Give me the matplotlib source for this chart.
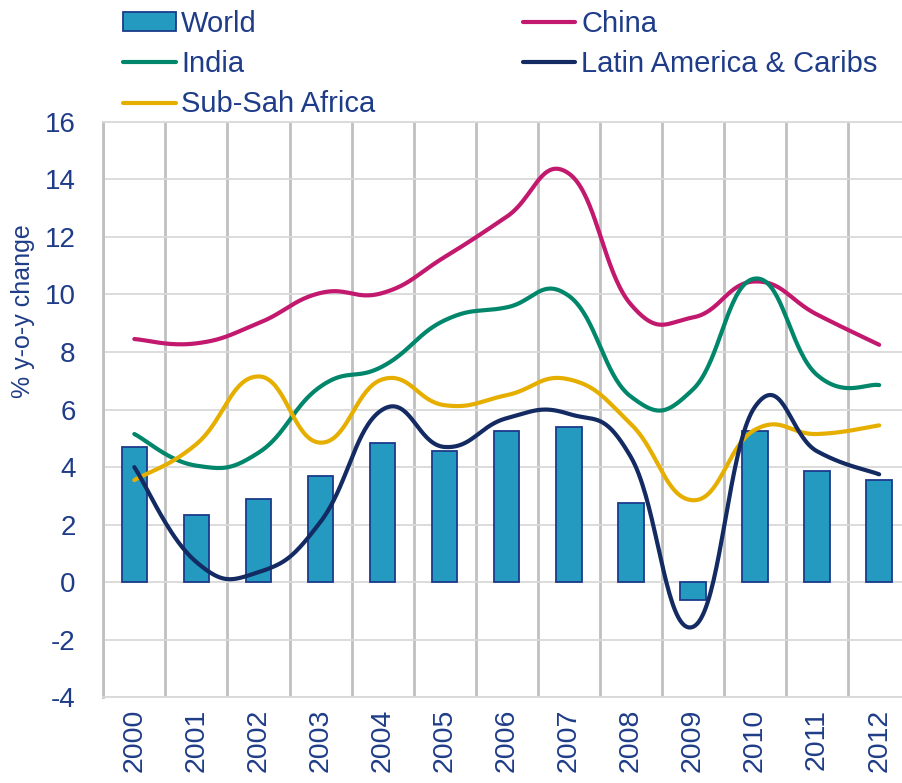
import numpy as np
import matplotlib
matplotlib.use("Agg")
import matplotlib.pyplot as plt
from matplotlib.patches import Patch
from matplotlib.lines import Line2D

years = ["2000", "2001", "2002", "2003", "2004", "2005", "2006",
         "2007", "2008", "2009", "2010", "2011", "2012"]
world = [4.7, 2.35, 2.9, 3.7, 4.85, 4.55, 5.25, 5.4, 2.75, -0.6, 5.25, 3.85, 3.55]
china = [8.45, 8.3, 9.0, 10.05, 10.05, 11.3, 12.7, 14.2, 9.65, 9.2, 10.45, 9.3, 8.25]
india = [5.15, 4.05, 4.5, 6.8, 7.5, 9.1, 9.55, 9.95, 6.45, 6.7, 10.55, 7.2, 6.85]
latin = [4.0, 0.7, 0.35, 2.1, 6.0, 4.7, 5.7, 5.85, 4.35, -1.55, 6.1, 4.55, 3.75]
ssa = [3.55, 4.8, 7.15, 4.85, 7.05, 6.15, 6.5, 7.05, 5.5, 2.85, 5.3, 5.15, 5.45]

TEXT = "#1F3C88"
C_BAR = "#249AC0"
C_BAR_EDGE = "#1B3A8A"
C_CHINA = "#C2186E"
C_INDIA = "#00866A"
C_LATIN = "#132A62"
C_SSA = "#E6AF00"

plt.rcParams["font.family"] = ["Liberation Sans", "DejaVu Sans"]
plt.rcParams["axes.unicode_minus"] = False


def smooth(xs, ys, tension=0.22, n=40):
    P = np.column_stack([xs, ys]).astype(float)
    Pp = np.vstack([P[0], P, P[-1]])
    out = []
    for i in range(len(P) - 1):
        p0, p1, p2, p3 = Pp[i], Pp[i + 1], Pp[i + 2], Pp[i + 3]
        c1 = p1 + tension * (p2 - p0)
        c2 = p2 - tension * (p3 - p1)
        t = np.linspace(0, 1, n)[:, None]
        seg = ((1 - t) ** 3) * p1 + 3 * ((1 - t) ** 2) * t * c1 + 3 * (1 - t) * t ** 2 * c2 + t ** 3 * p2
        out.append(seg if i == 0 else seg[1:])
    out = np.vstack(out)
    return out[:, 0], out[:, 1]


fig = plt.figure(figsize=(9.02, 7.83), dpi=100)
ax = fig.add_axes([103.3 / 902, 85.6 / 783, 806.9 / 902, 575.7 / 783])

x = np.arange(len(years))
ax.bar(x, world, width=0.41, color=C_BAR, edgecolor=C_BAR_EDGE, linewidth=1.3, zorder=2)

for vals, col in [(china, C_CHINA), (india, C_INDIA), (ssa, C_SSA), (latin, C_LATIN)]:
    sx, sy = smooth(x, vals)
    ax.plot(sx, sy, color=col, lw=3.0, solid_capstyle="round", zorder=3)

ax.set_xlim(-0.5, len(years) - 0.5)
ax.set_ylim(-4, 16)
ax.set_yticks(np.arange(-4, 17, 2))
ax.set_xticks(x)
ax.set_xticklabels(years, rotation=90)
ax.set_xticks(np.arange(-0.5, len(years), 1), minor=True)
ax.tick_params(axis="y", length=0, pad=20, labelsize=20, labelcolor=TEXT)
ax.tick_params(axis="x", which="major", length=0, pad=8, labelsize=20.5, labelcolor=TEXT)
ax.tick_params(axis="x", which="minor", length=0)
ax.grid(axis="y", which="major", color="#D9D9D9", lw=1.3, zorder=0)
ax.grid(axis="x", which="minor", color="#C0C0C0", lw=2.0, zorder=0)
ax.grid(axis="x", which="major", visible=False)
ax.set_axisbelow(True)
for s in ["top", "bottom"]:
    ax.spines[s].set_color("#D9D9D9")
    ax.spines[s].set_linewidth(1.3)
ax.spines["left"].set_color("#C0C0C0")
ax.spines["left"].set_linewidth(2.0)
ax.spines["right"].set_visible(False)

fig.text(23 / 902, 1 - 311 / 783, "% y-o-y change", rotation=90, ha="center", va="center",
         fontsize=18, color=TEXT)

handles = [
    Patch(facecolor=C_BAR, edgecolor=C_BAR_EDGE, linewidth=1.3),
    Line2D([], [], color=C_INDIA, lw=3.0, solid_capstyle="round"),
    Line2D([], [], color=C_SSA, lw=3.0, solid_capstyle="round"),
    Line2D([], [], color=C_CHINA, lw=3.0, solid_capstyle="round"),
    Line2D([], [], color=C_LATIN, lw=3.0, solid_capstyle="round"),
]
labels = ["World", "India", "Sub-Sah Africa", "China", "Latin America & Caribs"]
leg = fig.legend(handles, labels, ncol=2, loc="upper left",
                 bbox_to_anchor=(123 / 902, 1 - 10 / 783), bbox_transform=fig.transFigure,
                 frameon=False, fontsize=21, handlelength=1.8, handletextpad=0.2,
                 columnspacing=5.05, labelspacing=0.42, borderpad=0, borderaxespad=0,
                 handleheight=0.6)
for t in leg.get_texts():
    t.set_color(TEXT)

fig.savefig("out.png", dpi=100)
